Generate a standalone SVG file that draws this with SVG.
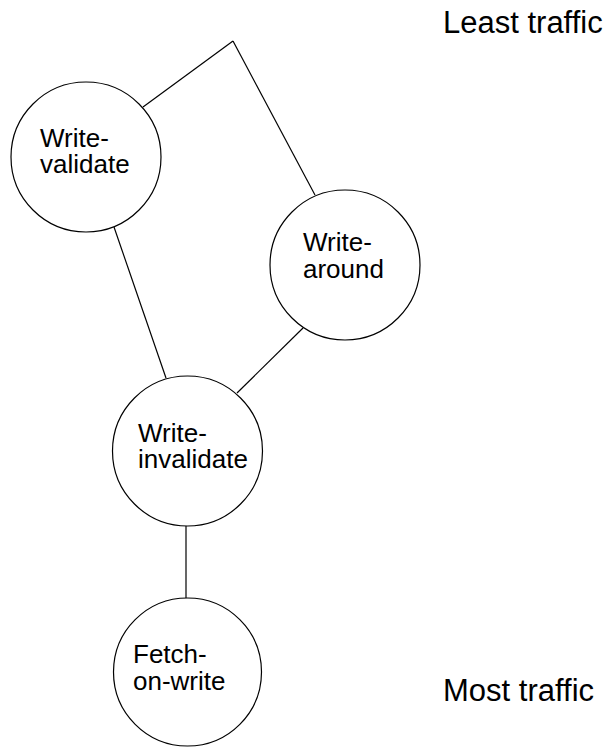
<svg xmlns="http://www.w3.org/2000/svg" width="610" height="747" viewBox="0 0 610 747">
<style>
.node circle{fill:#fff;stroke:#000;stroke-width:1.2}
.node text{font-family:"Liberation Sans",Arial,sans-serif;font-size:26px;fill:#000}
.label{font-family:"Liberation Sans",Arial,sans-serif;font-size:31px;fill:#000}
#connectors line{stroke:#000;stroke-width:1.2}
</style>
<rect width="610" height="747" fill="#fff"/>
<g id="connectors">
<line x1="233" y1="41" x2="143" y2="107"/>
<line x1="233" y1="41" x2="315" y2="195"/>
<line x1="114" y1="227" x2="166" y2="378"/>
<line x1="303" y1="328" x2="237" y2="393"/>
<line x1="186" y1="526" x2="186" y2="598"/>
</g>
<g id="write-validate" class="node">
<circle cx="86" cy="157" r="75"/>
<text x="40" y="147">Write-</text>
<text x="40" y="173">validate</text>
</g>
<g id="write-around" class="node">
<circle cx="345" cy="265" r="75"/>
<text x="303" y="251">Write-</text>
<text x="303" y="278">around</text>
</g>
<g id="write-invalidate" class="node">
<circle cx="187.5" cy="451" r="75"/>
<text x="138" y="442">Write-</text>
<text x="138" y="468">invalidate</text>
</g>
<g id="fetch-on-write" class="node">
<circle cx="187.5" cy="672" r="74"/>
<text x="133" y="663">Fetch-</text>
<text x="133" y="690">on-write</text>
</g>
<text class="label" x="443" y="33">Least traffic</text>
<text class="label" x="443" y="701">Most traffic</text>
</svg>
